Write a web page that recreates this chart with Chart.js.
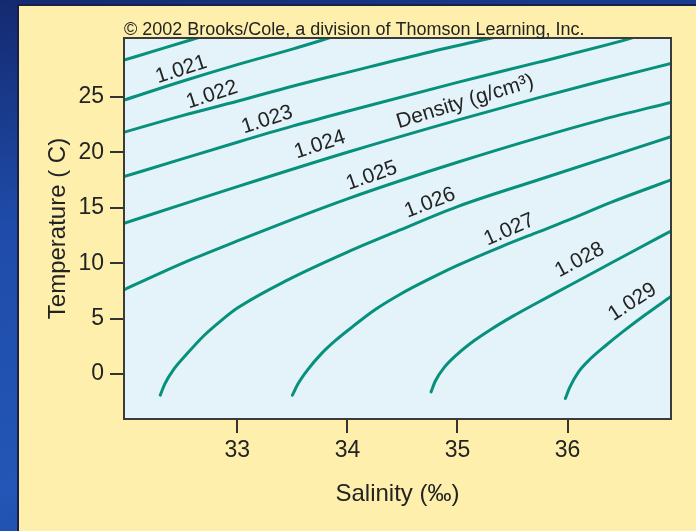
<!DOCTYPE html>
<html>
<head>
<meta charset="utf-8">
<title>Seawater density vs temperature and salinity</title>
<script src="https://cdn.jsdelivr.net/npm/chart.js@4.4.1/dist/chart.umd.min.js"></script>
<style>
  html, body { margin: 0; padding: 0; }
  body {
    width: 696px; height: 531px; overflow: hidden; position: relative;
    background: linear-gradient(170deg, #142a70 0%, #1f4caa 35%, #2356b6 75%, #1c47a2 100%);
  }
  #panel {
    position: absolute; left: 17px; top: 4px; right: 0; bottom: 0;
    background: #fef0ac;
    border-left: 2px solid #17204a;
    border-top: 2px solid #17204a;
  }
  #chart { position: absolute; left: 0; top: 0; }
</style>
</head>
<body>
<div id="panel"></div>
<canvas id="chart" width="696" height="531"></canvas>
<script>
// isopycnals, [salinity (‰), temperature (C)]
const iso1020 = [[31.97, 28.3], [32.3, 29.3], [32.7, 30.5]];
const iso1021 = [[31.97, 24.7], [32.5, 26.4], [33.0, 27.9], [33.5, 29.3], [33.9, 30.5]];
const iso1022 = [[31.97, 21.8], [32.5, 23.3], [33.0, 24.6], [33.5, 25.95], [34.0, 27.2], [34.73, 29.0], [35.4, 30.5]];
const iso1023 = [[31.97, 17.8], [32.5, 19.4], [33.0, 20.9], [33.5, 22.35], [34.0, 23.7], [35.0, 26.3], [35.73, 28.1], [36.55, 30.2], [36.65, 30.5]];
const iso1024 = [[31.97, 13.6], [32.5, 15.3], [33.0, 16.9], [34.0, 20.0], [35.0, 22.9], [35.73, 24.9], [36.3, 26.4], [36.94, 28.0]];
const iso1025 = [[31.97, 7.6], [32.3, 9.1], [32.6, 10.4], [33.0, 12.0], [33.5, 13.95], [34.0, 15.8], [34.5, 17.5], [35.0, 19.1], [35.73, 21.3], [36.3, 22.9], [36.94, 24.5]];
const iso1026 = [[32.30, -1.9], [32.34, -0.9], [32.42, 0.4], [32.54, 1.8], [32.70, 3.5], [32.85, 4.8], [33.0, 5.95], [33.45, 8.45], [34.0, 11.0], [34.48, 13.0], [35.0, 15.1], [35.73, 17.5], [36.94, 21.4]];
const iso1027 = [[33.50, -1.9], [33.55, -0.9], [33.64, 0.4], [33.76, 1.8], [33.90, 3.1], [34.05, 4.3], [34.25, 5.8], [34.48, 7.2], [34.75, 8.6], [35.0, 9.8], [35.4, 11.5], [35.73, 12.8], [36.0, 13.85], [36.4, 15.5], [36.94, 17.5]];
const iso1028 = [[34.76, -1.6], [34.80, -0.6], [34.88, 0.6], [35.0, 1.8], [35.15, 3.0], [35.30, 4.0], [35.5, 5.2], [35.7, 6.3], [36.0, 7.9], [36.3, 9.5], [36.6, 11.1], [36.94, 12.9]];
const iso1029 = [[35.98, -2.2], [36.02, -1.2], [36.10, 0.2], [36.21, 1.4], [36.35, 2.6], [36.5, 3.8], [36.7, 5.3], [36.94, 7.0]];

const isopycnals = [iso1020, iso1021, iso1022, iso1023, iso1024, iso1025, iso1026, iso1027, iso1028, iso1029];

const salinityTicks = [33, 34, 35, 36];
const temperatureTicks = [0, 5, 10, 15, 20, 25];

// labels written along the curves
const labelText = ['1.021', '1.022', '1.023', '1.024', '1.025', 'Density (g/cm³)', '1.026', '1.027', '1.028', '1.029'];
const labelSalinity = [32.49, 32.77, 33.27, 33.75, 34.22, 35.07, 34.75, 35.47, 36.11, 36.59];
const labelTemperature = [27.44, 25.18, 22.92, 20.67, 17.87, 24.55, 15.43, 13.0, 10.29, 6.5];
const labelAngle = [-18, -18, -18, -18, -19, -17, -21, -24, -28, -33];

const teal = '#07907b';
const ink = '#232323';
const fontFamily = '"Liberation Sans", Arial, Helvetica, sans-serif';

Chart.defaults.font.family = fontFamily;
Chart.defaults.font.size = 23;
Chart.defaults.color = ink;

const plotArea = {
  id: 'plotArea',
  beforeDraw(chart) {
    const { ctx, chartArea: a } = chart;
    ctx.save();
    ctx.fillStyle = '#e3f3f9';
    ctx.fillRect(a.left, a.top, a.right - a.left, a.bottom - a.top);
    ctx.restore();
  },
  afterDatasetsDraw(chart) {
    const { ctx, chartArea: a, scales: { x, y } } = chart;
    ctx.save();
    ctx.strokeStyle = '#3b3b3b';
    ctx.lineWidth = 2;
    ctx.strokeRect(a.left, a.top, a.right - a.left, a.bottom - a.top);

    ctx.fillStyle = ink;
    ctx.font = '21px ' + fontFamily;
    ctx.textAlign = 'center';
    ctx.textBaseline = 'middle';
    labelText.forEach((t, i) => {
      ctx.save();
      ctx.translate(x.getPixelForValue(labelSalinity[i]), y.getPixelForValue(labelTemperature[i]));
      ctx.rotate(labelAngle[i] * Math.PI / 180);
      ctx.fillText(t, 0, 0);
      ctx.restore();
    });

    ctx.font = '18px ' + fontFamily;
    ctx.textAlign = 'left';
    ctx.textBaseline = 'alphabetic';
    ctx.fillText('© 2002 Brooks/Cole, a division of Thomson Learning, Inc.', a.left, a.top - 3);
    ctx.restore();
  }
};

const tickMarks = { drawOnChartArea: false, tickLength: 14, color: '#333', lineWidth: 2 };

new Chart(document.getElementById('chart').getContext('2d'), {
  type: 'scatter',
  data: {
    datasets: isopycnals.map(line => ({
      data: line.map(([s, t]) => ({ x: s, y: t })),
      showLine: true,
      borderColor: teal,
      borderWidth: 3,
      borderCapStyle: 'round',
      borderJoinStyle: 'round',
      cubicInterpolationMode: 'monotone',
      pointRadius: 0,
      fill: false
    }))
  },
  options: {
    responsive: false,
    animation: false,
    devicePixelRatio: 1,
    layout: { padding: { left: 0, top: 38, right: 25, bottom: 0 } },
    plugins: {
      legend: { display: false },
      tooltip: { enabled: false }
    },
    scales: {
      x: {
        type: 'linear',
        min: 31.97,
        max: 36.94,
        afterBuildTicks: s => { s.ticks = salinityTicks.map(v => ({ value: v })); },
        afterFit: s => { s.height = 112; },
        grid: tickMarks,
        border: { display: false },
        ticks: { padding: 4 },
        title: { display: true, text: 'Salinity (‰)', font: { size: 24 }, padding: { top: 0, bottom: 22 } }
      },
      y: {
        type: 'linear',
        min: -4.05,
        max: 30.3,
        afterBuildTicks: s => { s.ticks = temperatureTicks.map(v => ({ value: v })); },
        afterFit: s => { s.width = 124; },
        grid: tickMarks,
        border: { display: false },
        ticks: { padding: 6 },
        title: { display: true, text: 'Temperature ( C)', font: { size: 24 }, padding: { top: 44, bottom: 0 } }
      }
    }
  },
  plugins: [plotArea]
});
</script>
</body>
</html>
